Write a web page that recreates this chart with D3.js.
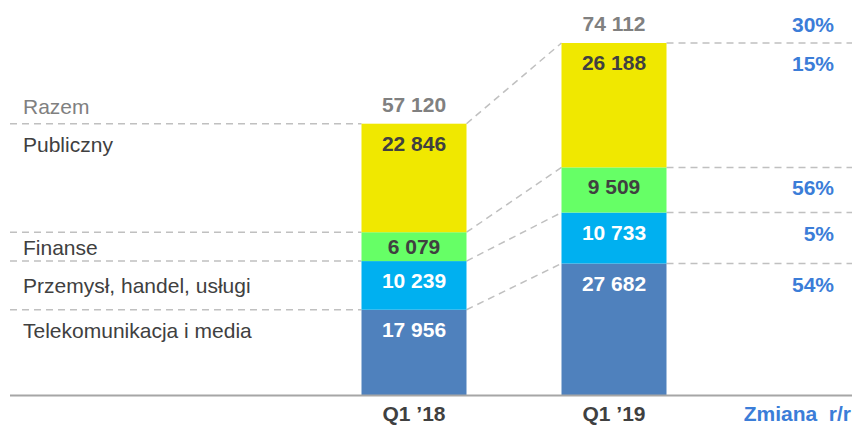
<!DOCTYPE html>
<html>
<head>
<meta charset="utf-8">
<script src="https://cdn.jsdelivr.net/npm/d3@7"></script>
<style>
  body { margin: 0; background: #fff; }
  text { font-family: "Liberation Sans", Arial, sans-serif; }
</style>
</head>
<body>
<svg id="chart" width="852" height="425"></svg>
<script>
// data
const periods = ['Q1 ’18', 'Q1 ’19']
const segments = ['Telekomunikacja i media', 'Przemysł, handel, usługi', 'Finanse', 'Publiczny']
const q118 = [17956, 10239, 6079, 22846]
const q119 = [27682, 10733, 9509, 26188]
const changes = ['54%', '5%', '56%', '15%']
const totalLabel = 'Razem'
const totalChange = '30%'
const changeTitle = 'Zmiana  r/r'

const colors = ['#4f81bd', '#00b0f0', '#66ff66', '#f0e800']
const textColors = ['#ffffff', '#ffffff', '#404040', '#404040']
const blue = '#3b7dd8'
const fmt = v => d3.format(',')(v).replace(/,/g, ' ')

const rows = periods.map((p, i) => {
    const vals = i === 0 ? q118 : q119
    const r = { period: p }
    segments.forEach((s, j) => r[s] = vals[j])
    return r
})
const series = d3.stack().keys(segments)(rows)
const totals = rows.map(r => d3.sum(segments, s => r[s]))

const svg = d3.select('#chart')
const W = 852
const numSize = 21
const labSize = 21

// scales
const x = d3.scaleBand().domain(periods).range([314, 714]).paddingInner(0.475).paddingOuter(0.2375)
const y = d3.scaleLinear().domain([0, d3.max(totals)]).range([395, 43])

const dash = g => g.attr('stroke', '#c0c0c0').attr('stroke-width', 1.5).attr('stroke-dasharray', '7,5').attr('fill', 'none')

// boundaries: top of each segment
const tops = series.map(s => s.map(d => d[1]))
const left0 = x(periods[0]), right0 = left0 + x.bandwidth()
const left1 = x(periods[1]), right1 = left1 + x.bandwidth()

const lines = svg.append('g')
tops.forEach(t => {
    lines.append('line').call(dash).attr('x1', 10).attr('x2', left0).attr('y1', y(t[0])).attr('y2', y(t[0]))
    lines.append('line').call(dash).attr('x1', right0).attr('x2', left1).attr('y1', y(t[0])).attr('y2', y(t[1]))
    lines.append('line').call(dash).attr('x1', right1).attr('x2', W).attr('y1', y(t[1])).attr('y2', y(t[1]))
})

// bars
const layer = svg.append('g').selectAll('g').data(series).join('g').attr('fill', (d, i) => colors[i])
layer.selectAll('rect').data(d => d).join('rect')
    .attr('x', d => x(d.data.period))
    .attr('width', x.bandwidth())
    .attr('y', d => y(d[1]))
    .attr('height', d => y(d[0]) - y(d[1]))

// value labels: centred in small segments, near the top in tall ones
const labelY = d => Math.min((y(d[0]) + y(d[1])) / 2 + 7.5, y(d[1]) + 27)

series.forEach((s, i) => {
    svg.append('g').selectAll('text').data(s).join('text')
        .attr('x', d => x(d.data.period) + x.bandwidth() / 2)
        .attr('y', labelY)
        .attr('text-anchor', 'middle')
        .attr('font-size', numSize)
        .attr('font-weight', 'bold')
        .attr('fill', textColors[i])
        .text(d => fmt(d[1] - d[0]))
})

// totals
svg.append('g').selectAll('text').data(periods).join('text')
    .attr('x', d => x(d) + x.bandwidth() / 2)
    .attr('y', (d, i) => y(totals[i]) - 12)
    .attr('text-anchor', 'middle')
    .attr('font-size', numSize)
    .attr('font-weight', 'bold')
    .attr('fill', '#808080')
    .text((d, i) => fmt(totals[i]))

// left labels
svg.append('text').attr('x', 23).attr('y', y(totals[0]) - 10)
    .attr('font-size', labSize).attr('fill', '#808080').text(totalLabel)
series.forEach((s, i) => {
    const d = s[0]
    const tall = y(d[0]) - y(d[1]) > 70
    svg.append('text').attr('x', 23)
        .attr('y', tall ? y(d[1]) + 28 : (y(d[0]) + y(d[1])) / 2 + 8)
        .attr('font-size', labSize).attr('fill', '#404040')
        .text(segments[i])
})

// right change column
const changeX = 834
svg.append('text').attr('x', changeX).attr('y', y(totals[1]) - 11)
    .attr('text-anchor', 'end').attr('font-size', numSize).attr('font-weight', 'bold')
    .attr('fill', blue).text(totalChange)
series.forEach((s, i) => {
    svg.append('text').attr('x', changeX).attr('y', labelY(s[1]) + 1)
        .attr('text-anchor', 'end').attr('font-size', numSize).attr('font-weight', 'bold')
        .attr('fill', blue).text(changes[i])
})

// axis
const axis = svg.append('g').attr('transform', `translate(0,${y(0)})`)
    .call(d3.axisBottom(x).tickSize(0).tickPadding(11))
axis.select('.domain').attr('d', `M10,0.5H${W}`).attr('stroke', '#a6a6a6').attr('stroke-width', 2)
axis.selectAll('text').attr('font-size', numSize).attr('font-weight', 'bold').attr('fill', '#404040')
    .attr('font-family', '"Liberation Sans", Arial, sans-serif')
svg.append('text').attr('x', 851).attr('y', 421).attr('text-anchor', 'end')
    .attr('font-size', numSize).attr('font-weight', 'bold').attr('fill', blue)
    .style('white-space', 'pre').text(changeTitle)
</script>
</body>
</html>
